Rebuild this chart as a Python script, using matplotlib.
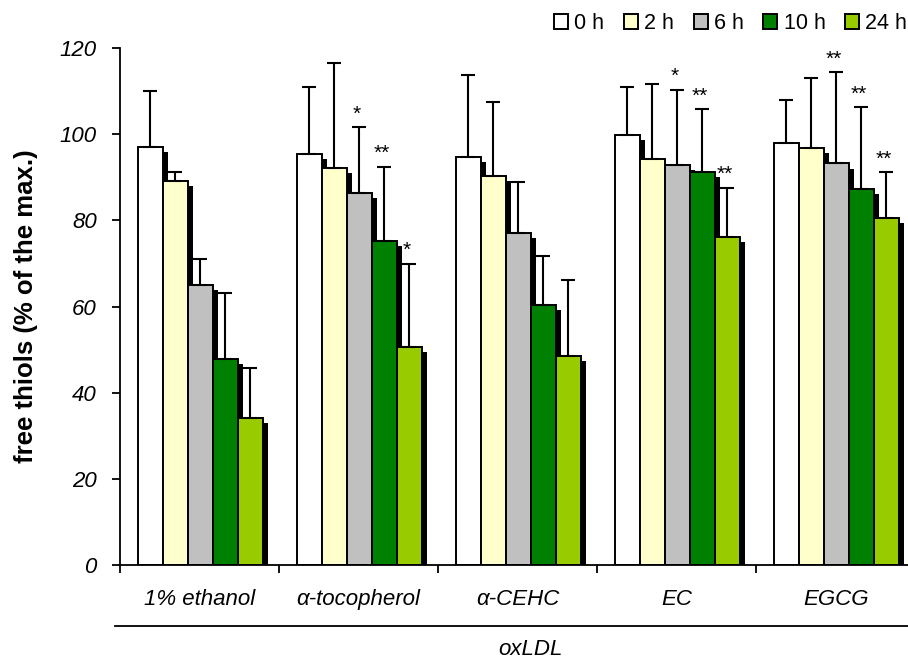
import numpy as np
import matplotlib.pyplot as plt

plt.rcParams['font.family'] = ['Liberation Sans', 'DejaVu Sans']

groups = ["1% ethanol", "α-tocopherol", "α-CEHC", "EC", "EGCG"]
times = ["0 h", "2 h", "6 h", "10 h", "24 h"]
colors = ["#FFFFFF", "#FFFFCC", "#C0C0C0", "#008000", "#99CC00"]

# mean free thiols per time point (rows) for each group (columns)
means = [
    [97.0, 95.4, 94.7, 99.9, 98.0],   # 0 h
    [89.1, 92.1, 90.3, 94.3, 96.9],   # 2 h
    [65.0, 86.3, 77.1, 92.8, 93.2],   # 6 h
    [47.8, 75.2, 60.4, 91.2, 87.2],   # 10 h
    [34.1, 50.6, 48.5, 76.1, 80.6],   # 24 h
]
sds = [
    [13.1, 15.5, 19.0, 11.1, 9.9],
    [2.1, 24.4, 17.2, 17.4, 16.1],
    [6.0, 15.3, 11.8, 17.5, 21.2],
    [15.3, 17.2, 11.3, 14.6, 19.0],
    [11.6, 19.3, 17.7, 11.4, 10.5],
]
stars = [
    ["", "", "", "", ""],
    ["", "", "", "", ""],
    ["", "*", "", "*", "**"],
    ["", "**", "", "**", "**"],
    ["", "*", "", "**", "**"],
]

fig = plt.figure(figsize=(9.08, 6.59), dpi=100)
ax = fig.add_axes([0.1322, 0.1426, 0.8756, 0.7846])

x = np.arange(len(groups))
w = 0.157
start = 0.111
shx, shy = 0.032, 1.2

for i in range(len(times)):
    xpos = x + start + w * i + w / 2
    m = np.array(means[i])
    e = np.array(sds[i])
    # drop shadow behind each bar
    ax.bar(xpos + shx, m - shy, w, color="black", zorder=1)
    ax.bar(xpos, m, w, color=colors[i], edgecolor="black", linewidth=1.4,
           zorder=2, label=times[i])
    ax.errorbar(xpos, m, yerr=[np.zeros_like(e), e], fmt="none",
                ecolor="black", elinewidth=1.5, capsize=4.8, capthick=1.5,
                zorder=3)
    for j in range(len(groups)):
        if stars[i][j]:
            ax.annotate(stars[i][j], (xpos[j], m[j] + e[j]),
                        xytext=(-1.5, 9.5), textcoords="offset points",
                        ha="center", va="center", fontsize=15)

ax.set_xlim(0, len(groups))
ax.set_ylim(0, 120)
ax.set_yticks(range(0, 121, 20))
ax.set_yticklabels([str(v) for v in range(0, 121, 20)], fontstyle="italic",
                   fontsize=16)
ax.set_xticks(range(len(groups)))
ax.set_xticklabels([])
ax.tick_params(axis="y", direction="out", length=5.8, width=1.3, pad=11)
ax.tick_params(axis="x", direction="out", length=5.8, width=1.3)
for j, g in enumerate(groups):
    ax.text(j + 0.5, -8.1, g, ha="center", va="center", fontsize=16,
            fontstyle="italic")
ax.spines["top"].set_visible(False)
ax.spines["right"].set_visible(False)
ax.spines["left"].set_linewidth(1.3)
ax.spines["bottom"].set_linewidth(1.3)

fig.text(26 / 908, 0.5357, "free thiols (% of the max.)", rotation=90,
         ha="center", va="center", fontsize=18.5, fontweight="bold")

# group bracket line and label
ax.plot([-0.031, len(groups) + 0.2], [-14.2, -14.2], color="black",
        linewidth=1.3, clip_on=False)
ax.text(2.58, -19.5, "oxLDL", ha="center", va="center", fontsize=16,
        fontstyle="italic")

fig.legend(*ax.get_legend_handles_labels(), loc="upper right",
           bbox_to_anchor=(0.999, 0.980), ncol=5, frameon=False,
           fontsize=15.5, handlelength=0.65, handleheight=0.7,
           handletextpad=0.28, columnspacing=0.92, borderpad=0,
           borderaxespad=0)

plt.savefig("out.png", dpi=100)
plt.close()
